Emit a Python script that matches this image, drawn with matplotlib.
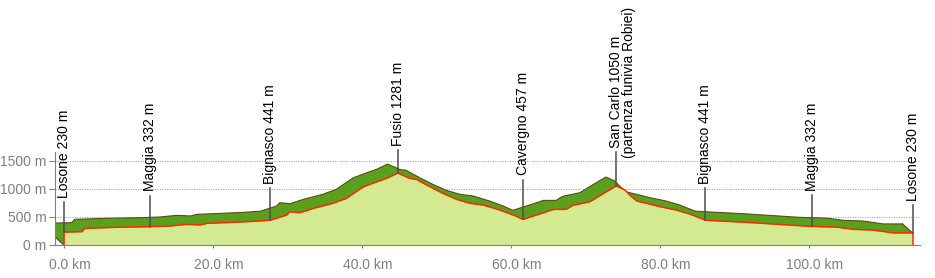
import numpy as np
import matplotlib
matplotlib.use("Agg")
import matplotlib.pyplot as plt
from matplotlib.transforms import ScaledTranslation

# =============================
# DATA
# =============================
dist_km = [0, 2.4, 2.8, 7.1, 11.5, 14.2, 16.5, 18.3, 19.2, 22.7, 25.4, 27.7,
           29.9, 30.3, 31.7, 33.5, 36.1, 37.9, 40.2, 42.0, 43.3, 44.8, 46.4,
           47.3, 49.1, 50.9, 52.7, 54.5, 56.3, 58.5, 60.3, 61.6, 63.0, 64.8,
           65.7, 67.4, 68.3, 70.6, 72.4, 74.1, 75.3, 76.0, 76.9, 78.2, 80.0,
           82.2, 84.0, 86.1, 92.5, 100.1, 103.7, 105.0, 105.9, 108.6, 111.3,
           113.9]
elev_m = [230, 237, 297, 315, 326, 338, 368, 356, 386, 404, 421, 441,
          534, 593, 575, 653, 742, 830, 1037, 1126, 1186, 1281, 1186,
          1168, 1037, 917, 811, 742, 711, 622, 534, 457, 516, 593,
          634, 634, 706, 771, 917, 1050, 978, 880, 783, 742, 682,
          622, 551, 441, 397, 332, 318, 297, 279, 267, 215,
          215]

label_km = [0, 11.6, 27.7, 44.8, 61.6, 74.1, 86.1, 100.4, 113.9]
label_text = ["Losone 230 m", "Maggia 332 m", "Bignasco 441 m", "Fusio 1281 m",
              "Cavergno 457 m", "San Carlo 1050 m", "Bignasco 441 m",
              "Maggia 332 m", "Losone 230 m"]
label_sub = ["", "", "", "", "", "(partenza funivia Robiei)", "", "", ""]

x_ticks = [0, 20, 40, 60, 80, 100]
x_tick_labels = ["0.0 km", "20.0 km", "40.0 km", "60.0 km", "80.0 km", "100.0 km"]
y_ticks = [0, 500, 1000, 1500]
y_tick_labels = ["0 m", "500 m", "1000 m", "1500 m"]

# =============================
# LAYOUT / STYLE
# =============================
label_top = [770, 880, 1020, 1685, 1165, 1650, 1020, 890, 715]  # where leader lines end (m)
shift_x = -1.35   # km, fake 3D extrusion
shift_y = 160     # m

light_green = "#d4ea90"
dark_green = "#5aa01e"
edge_brown = "#5b4a14"
red = "#ff2a00"
grey = "#808080"

plt.rcParams['font.family'] = ['Liberation Sans', 'DejaVu Sans']

d = np.array(dist_km, dtype=float)
e = np.array(elev_m, dtype=float)

fig = plt.figure(figsize=(9.35, 2.78), dpi=100)
ax = fig.add_axes([55 / 935, 33 / 278, 865 / 935, 93 / 278])
ax.set_xlim(-1.2, 114.9)
ax.set_ylim(0, 1655)

# extruded top face
poly_x = np.concatenate([d + shift_x, [d[-1], d[-1], 0, shift_x]])
poly_y = np.concatenate([e + shift_y, [e[-1], 0, 0, shift_y]])
ax.fill(poly_x, poly_y, color=dark_green, lw=0, zorder=2)
ax.plot(d + shift_x, e + shift_y, color=edge_brown, lw=0.8, zorder=2)
ax.plot([shift_x, 0], [shift_y, 0], color="#555555", lw=1.0, zorder=2)
ax.plot([d[-1] + shift_x, d[-1]], [e[-1] + shift_y, e[-1]], color=edge_brown, lw=0.8, zorder=2)

# profile
ax.fill_between(d, 0, e, color=light_green, lw=0, zorder=3)
ax.plot(d, e, color=red, lw=1.1, zorder=4)
ax.plot([d[0], d[0]], [0, e[0]], color=red, lw=1.1, zorder=4)
ax.plot([d[-1], d[-1]], [0, e[-1]], color=red, lw=1.1, zorder=4)

# place labels
for km, txt, sub, top in zip(label_km, label_text, label_sub, label_top):
    base = np.interp(km, d, e)
    ax.plot([km, km], [base, top], color="#4d4d4d", lw=1.1, zorder=5, clip_on=False)
    ax.annotate(txt, xy=(km, top), xytext=(0, 3), textcoords="offset points",
                rotation=90, rotation_mode="anchor", ha="left", va="center",
                fontsize=10, color="black", annotation_clip=False)
    if sub:
        ax.annotate(sub, xy=(km, top), xytext=(9.4, -4), textcoords="offset points",
                    rotation=90, rotation_mode="anchor", ha="left", va="center",
                    fontsize=10, color="black", annotation_clip=False)

# axes cosmetics
ax.set_xticks(x_ticks)
ax.set_xticklabels(x_tick_labels)
ax.set_yticks(y_ticks)
ax.set_yticklabels(y_tick_labels)
ax.tick_params(axis="x", colors=grey, labelsize=10, length=2.5, width=0.8, pad=7)
ax.tick_params(axis="y", colors=grey, labelsize=10, length=4, width=0.8, pad=2)
offset = ScaledTranslation(0.06, 0, fig.dpi_scale_trans)
for lab in ax.get_xticklabels():
    lab.set_transform(lab.get_transform() + offset)

ax.yaxis.grid(True, linestyle=(0, (1, 1.5)), color="#999999", lw=0.7)
ax.set_axisbelow(True)
for side in ["top", "right"]:
    ax.spines[side].set_visible(False)
for side in ["left", "bottom"]:
    ax.spines[side].set_color(grey)
    ax.spines[side].set_linewidth(0.8)
    ax.spines[side].set_zorder(6)

plt.savefig("out.png", dpi=100)
